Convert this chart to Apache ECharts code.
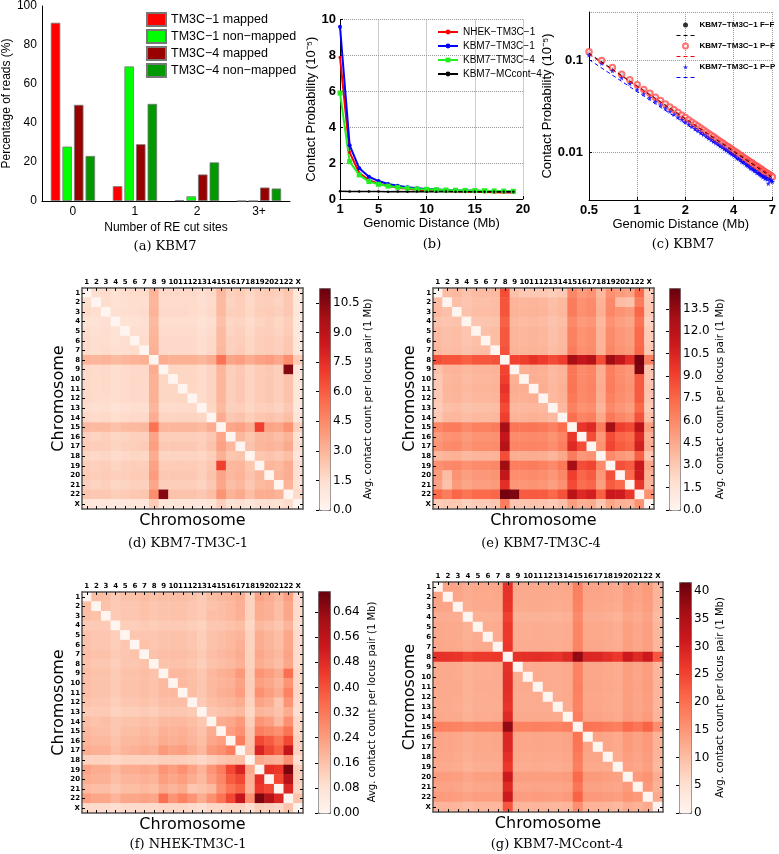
<!DOCTYPE html>
<html><head><meta charset="utf-8">
<script src="https://cdn.jsdelivr.net/npm/echarts@6/dist/echarts.min.js"></script>
<style>html,body{margin:0;padding:0;background:#fff}#c{width:779px;height:854px}</style>
</head><body><div id="c"></div>
<script>
// ---------- (a) RE cut sites ----------
const reCategories = ['0', '1', '2', '3+'];
const tm3c1Mapped = [91.4, 7.6, 0.4, 0];
const tm3c1NonMapped = [27.9, 69.0, 2.4, 0];
const tm3c4Mapped = [49.3, 29.1, 13.6, 6.9];
const tm3c4NonMapped = [23.1, 49.8, 19.8, 6.4];

// ---------- (b) contact probability vs distance ----------
const bDistance = [1,2,3,4,5,6,7,8,9,10,11,12,13,14,15,16,17,18,19];
const bNHEK = [7.9,2.6,1.45,1.05,0.85,0.72,0.63,0.57,0.52,0.49,0.46,0.44,0.42,0.41,0.40,0.39,0.37,0.36,0.36];
const bKBM7TM3C1 = [9.6,3.0,1.71,1.24,1.0,0.84,0.74,0.66,0.60,0.56,0.53,0.50,0.48,0.47,0.46,0.45,0.44,0.43,0.42];
const bKBM7TM3C4 = [5.9,2.08,1.34,0.97,0.82,0.72,0.65,0.60,0.56,0.54,0.52,0.50,0.49,0.48,0.47,0.46,0.45,0.44,0.43];
const bMCcont4 = [0.43,0.42,0.42,0.42,0.42,0.41,0.42,0.41,0.42,0.41,0.41,0.42,0.41,0.41,0.41,0.41,0.41,0.41,0.41];

// ---------- (c) log-log ----------
const cDistance = [
0.5,0.6,0.7,0.8,0.9,1.0,1.1,1.2,1.3,1.4,
1.5,1.6,1.7,1.8,1.9,2.0,2.1,2.2,2.3,2.4,
2.5,2.6,2.7,2.8,2.9,3.0,3.1,3.2,3.3,3.4,
3.5,3.6,3.7,3.8,3.9,4.0,4.1,4.2,4.3,4.4,
4.5,4.6,4.7,4.8,4.9,5.0,5.1,5.2,5.3,5.4,
5.5,5.6,5.7,5.8,5.9,6.0,6.1,6.2,6.3,6.4,
6.5,6.6,6.7,6.8,6.9,7.0];
const cFF = [
0.120,0.097,0.081,0.069,0.060,0.053,0.047,0.0428,0.0388,0.0356,
0.0328,0.0304,0.0282,0.0264,0.0247,0.0233,0.0220,0.0208,0.0197,0.0187,
0.0178,0.0170,0.0163,0.0156,0.0150,0.0144,0.0138,0.0133,0.0128,0.0124,
0.0120,0.0116,0.0112,0.0109,0.0106,0.0102,0.0099,0.0097,0.0094,0.0091,
0.0089,0.0086,0.0084,0.0082,0.0080,0.0078,0.0076,0.0075,0.0073,0.0072,
0.0070,0.0069,0.0067,0.0066,0.0065,0.0063,0.0062,0.0061,0.0060,0.0059,
0.0058,0.0057,0.0056,0.0055,0.0054,0.0053];
const cPF = [
0.123,0.099,0.083,0.070,0.061,0.054,0.048,0.0435,0.0395,0.0363,
0.0334,0.0310,0.0288,0.0269,0.0252,0.0238,0.0224,0.0212,0.0201,0.0191,
0.0182,0.0174,0.0166,0.0159,0.0153,0.0147,0.0141,0.0136,0.0131,0.0127,
0.0122,0.0118,0.0115,0.0111,0.0108,0.0104,0.0101,0.0099,0.0096,0.0093,
0.0091,0.0088,0.0086,0.0084,0.0082,0.0080,0.0078,0.0077,0.0075,0.0073,
0.0072,0.0070,0.0069,0.0067,0.0066,0.0065,0.0063,0.0062,0.0061,0.0060,
0.0059,0.0058,0.0057,0.0056,0.0055,0.0054];
const cPP = [
0.113,0.092,0.0765,0.064,0.0555,0.048,0.043,0.039,0.0355,0.0325,
0.0300,0.0278,0.0258,0.0241,0.0226,0.0213,0.0201,0.0190,0.0180,0.0171,
0.0163,0.0156,0.0149,0.0142,0.0137,0.0131,0.0126,0.0122,0.0117,0.0113,
0.0109,0.0106,0.0102,0.0099,0.0096,0.0093,0.0091,0.0086,0.0085,0.0083,
0.0079,0.0078,0.0076,0.0073,0.0072,0.0070,0.0067,0.0067,0.0065,0.0063,
0.0063,0.0060,0.0060,0.0058,0.0057,0.0056,0.0054,0.0055,0.0052,0.0053,
0.0051,0.0046,0.0052,0.0049,0.0050,0.0048];
const cFitX = [0.5, 7.0];
const cFitFF = [0.118, 0.0053];
const cFitPF = [0.115, 0.0055];
const cFitPP = [0.101, 0.0048];

// ---------- heatmaps (lower triangle, rows 1..22, X) ----------
const chroms = ['1','2','3','4','5','6','7','8','9','10','11','12','13','14','15','16','17','18','19','20','21','22','X'];

const hmKBM7TM3C1 = [
[0],
[1.5,0],
[1.6,1.5,0],
[1.3,1.3,1.4,0],
[1.5,1.4,1.5,1.3,0],
[1.6,1.5,1.5,1.3,1.5,0],
[1.6,1.5,1.6,1.4,1.5,1.6,0],
[3.1,3.0,3.1,2.8,3.0,3.1,3.2,0],
[1.7,1.6,1.7,1.5,1.6,1.7,1.7,3.3,0],
[1.7,1.6,1.7,1.5,1.6,1.7,1.7,3.2,1.8,0],
[1.7,1.6,1.7,1.5,1.6,1.7,1.7,3.2,1.8,1.8,0],
[1.7,1.6,1.6,1.5,1.6,1.7,1.7,3.2,1.8,1.8,1.8,0],
[1.5,1.4,1.5,1.3,1.4,1.5,1.5,3.0,1.6,1.6,1.6,1.6,0],
[1.7,1.6,1.7,1.5,1.6,1.7,1.7,3.3,1.9,1.9,1.9,1.9,1.8,0],
[2.9,2.8,2.8,2.6,2.8,2.8,2.9,5.3,3.0,3.0,3.0,3.0,2.8,3.3,0],
[2.0,1.9,2.0,1.8,1.9,2.0,2.0,3.6,2.1,2.1,2.1,2.1,2.0,2.3,3.5,0],
[2.2,2.1,2.1,1.9,2.0,2.1,2.2,3.8,2.3,2.3,2.3,2.3,2.1,2.5,3.7,2.9,0],
[1.8,1.7,1.8,1.6,1.7,1.8,1.8,3.3,1.9,1.9,1.9,1.9,1.8,2.1,3.2,2.4,2.5,0],
[2.1,2.0,2.1,1.9,2.0,2.1,2.1,3.7,2.2,2.2,2.2,2.2,2.0,2.4,6.9,2.9,3.0,2.4,0],
[2.2,2.1,2.2,2.0,2.1,2.2,2.2,3.9,2.3,2.3,2.3,2.3,2.1,2.5,3.6,2.9,3.1,2.5,3.0,0],
[2.0,1.9,2.0,1.8,1.9,2.0,2.0,3.5,2.1,2.1,2.1,2.1,1.9,2.3,3.5,2.7,2.9,2.3,2.8,3.0,0],
[2.4,2.3,2.3,2.1,2.2,2.3,2.4,4.4,10.6,2.5,2.5,2.5,2.3,2.7,4.2,3.1,3.4,2.7,3.3,3.3,3.1,0],
[1.0,0.9,1.0,0.8,0.9,1.0,1.0,2.2,1.0,1.0,1.0,1.0,0.9,1.1,2.0,1.3,1.4,1.1,1.4,1.4,1.3,1.6,0]];

const hmKBM7TM3C4 = [
[0],
[3.6,0],
[3.8,3.5,0],
[3.3,3.2,3.3,0],
[3.7,3.5,3.6,3.2,0],
[3.7,3.5,3.6,3.2,3.5,0],
[3.8,3.6,3.7,3.3,3.6,3.6,0],
[8.6,8.3,8.3,7.8,8.2,8.2,8.4,0],
[3.4,4.0,4.1,3.8,4.0,4.0,4.1,9.0,0],
[3.0,3.9,4.0,3.7,3.9,3.9,4.0,9.2,4.2,0],
[3.0,4.0,4.1,3.8,4.0,4.0,4.1,9.8,4.3,4.3,0],
[3.0,3.9,4.0,3.7,3.9,3.9,4.0,9.3,4.2,4.2,4.3,0],
[2.8,3.5,3.6,3.3,3.5,3.5,3.6,8.7,3.8,3.8,3.9,3.8,0],
[3.0,3.8,3.9,3.6,3.8,3.8,3.9,9.2,4.1,4.1,4.2,4.1,3.8,0],
[6.2,6.6,6.6,6.0,6.4,6.4,6.6,12.9,6.9,6.9,7.0,6.8,6.4,7.2,0],
[5.2,5.6,5.7,5.2,5.5,5.5,5.7,11.5,5.9,5.9,6.0,5.9,5.5,6.2,9.6,0],
[5.5,5.9,6.0,5.4,5.8,5.8,5.9,12.2,6.2,6.2,6.3,6.2,5.8,6.5,10.2,8.6,0],
[3.8,4.1,4.2,3.8,4.0,4.0,4.1,8.6,4.3,4.3,4.4,4.3,4.0,4.6,6.6,5.3,5.6,0],
[5.7,6.0,6.1,5.6,5.9,5.9,6.1,13.2,6.5,6.5,6.6,6.4,6.0,6.8,13.0,8.6,9.0,6.0,0],
[5.2,3.6,5.5,5.0,5.3,5.3,5.5,11.6,5.8,5.8,5.9,5.8,5.4,6.1,9.2,7.6,8.0,5.3,8.5,0],
[4.9,3.4,5.2,4.7,5.0,5.0,5.2,10.0,5.4,5.4,5.5,5.4,5.0,5.7,8.7,7.2,7.6,5.0,8.0,7.4,0],
[7.4,6.6,7.6,7.0,7.4,7.4,7.6,14.5,14.2,8.0,8.1,8.0,7.5,8.4,12.0,10.2,10.8,7.9,11.2,11.0,9.6,0],
[2.8,3.0,3.1,2.6,2.9,2.9,3.1,6.5,3.2,3.2,3.3,3.2,2.9,3.4,5.1,4.2,4.4,3.1,4.7,4.2,4.0,5.6,0]];

const hmNHEKTM3C1 = [
[0],
[0.17,0],
[0.17,0.16,0],
[0.14,0.14,0.14,0],
[0.16,0.15,0.15,0.13,0],
[0.16,0.15,0.15,0.13,0.15,0],
[0.17,0.16,0.16,0.14,0.15,0.16,0],
[0.16,0.15,0.15,0.13,0.15,0.15,0.16,0],
[0.17,0.16,0.16,0.14,0.16,0.16,0.17,0.16,0],
[0.17,0.16,0.16,0.14,0.16,0.16,0.17,0.16,0.18,0],
[0.17,0.16,0.16,0.14,0.16,0.16,0.17,0.16,0.18,0.18,0],
[0.16,0.15,0.15,0.13,0.15,0.15,0.16,0.15,0.17,0.17,0.17,0],
[0.14,0.14,0.14,0.12,0.13,0.13,0.14,0.13,0.15,0.15,0.15,0.14,0],
[0.17,0.16,0.17,0.15,0.16,0.16,0.17,0.16,0.18,0.18,0.18,0.17,0.15,0],
[0.18,0.17,0.17,0.15,0.17,0.17,0.18,0.17,0.20,0.19,0.20,0.18,0.16,0.21,0],
[0.19,0.18,0.18,0.16,0.18,0.18,0.19,0.18,0.21,0.20,0.21,0.19,0.17,0.22,0.24,0],
[0.21,0.20,0.20,0.17,0.19,0.20,0.21,0.20,0.25,0.23,0.24,0.21,0.18,0.25,0.27,0.31,0],
[0.12,0.12,0.12,0.11,0.12,0.12,0.12,0.12,0.13,0.13,0.13,0.12,0.11,0.13,0.15,0.16,0.17,0],
[0.23,0.21,0.21,0.18,0.21,0.21,0.22,0.21,0.26,0.24,0.27,0.23,0.19,0.26,0.31,0.42,0.50,0.22,0],
[0.21,0.20,0.20,0.17,0.19,0.19,0.20,0.19,0.24,0.22,0.24,0.21,0.18,0.24,0.29,0.38,0.42,0.20,0.47,0],
[0.18,0.17,0.17,0.15,0.17,0.17,0.18,0.17,0.21,0.19,0.21,0.15,0.16,0.18,0.27,0.33,0.37,0.19,0.45,0.42,0],
[0.24,0.22,0.22,0.19,0.22,0.22,0.23,0.22,0.34,0.26,0.30,0.26,0.21,0.27,0.33,0.42,0.55,0.27,0.68,0.58,0.49,0],
[0.10,0.10,0.10,0.09,0.10,0.10,0.10,0.10,0.11,0.11,0.11,0.10,0.09,0.11,0.11,0.12,0.12,0.09,0.13,0.12,0.11,0.16,0]];

const hmKBM7MCcont4 = [
[0],
[13.5,0],
[13.3,13.2,0],
[12.3,12.2,12.1,0],
[12.8,12.7,12.6,11.8,0],
[12.8,12.7,12.6,11.8,12.3,0],
[12.9,12.8,12.7,11.9,12.4,12.4,0],
[27.5,27.3,27.0,25.5,26.4,26.3,26.6,0],
[12.6,12.5,12.4,11.5,12.1,12.1,12.2,27.5,0],
[12.6,12.5,12.4,11.5,12.1,12.1,12.2,27.8,12.3,0],
[12.7,12.6,12.5,11.6,12.2,12.2,12.3,28.0,12.4,12.4,0],
[12.6,12.5,12.4,11.5,12.1,12.1,12.2,27.6,12.3,12.3,12.4,0],
[12.5,12.4,12.3,11.4,12.0,12.0,12.1,27.2,12.2,12.2,12.3,12.2,0],
[12.8,12.7,12.6,11.7,12.3,12.3,12.4,28.6,12.5,12.5,12.6,12.5,12.4,0],
[18.0,17.8,17.6,16.6,17.3,17.3,17.5,38.0,17.7,17.7,17.9,17.7,17.5,18.2,0],
[13.3,13.2,13.0,12.2,12.8,12.8,12.9,29.0,13.0,13.0,13.1,13.0,12.9,13.3,19.4,0],
[13.3,13.2,13.0,12.2,12.8,12.8,12.9,28.8,13.0,13.0,13.1,13.0,12.9,13.3,19.2,13.4,0],
[13.0,12.9,12.7,11.9,12.5,12.5,12.6,27.8,12.7,12.7,12.8,12.7,12.6,13.0,18.6,13.1,13.1,0],
[12.6,12.5,12.3,11.4,12.0,12.0,12.2,26.5,12.3,12.3,12.4,12.3,12.2,12.6,18.0,12.7,12.7,12.4,0],
[14.3,14.2,14.0,13.2,13.8,13.8,13.9,31.0,14.0,14.0,14.1,14.0,13.9,14.3,20.8,14.5,14.5,14.1,13.7,0],
[13.5,13.4,13.2,12.4,13.0,13.0,13.1,28.6,13.2,13.2,13.3,13.2,13.1,13.5,19.3,13.6,13.6,13.3,12.9,14.6,0],
[14.5,14.4,14.2,13.4,14.0,14.0,14.1,31.0,14.2,14.2,14.3,14.2,14.1,14.5,21.5,14.7,14.7,14.3,13.9,15.5,14.7,0],
[11.2,11.1,11.0,10.2,10.8,10.8,10.9,23.0,11.0,11.0,11.1,11.0,10.9,11.2,16.2,11.4,11.4,11.1,10.7,12.2,11.5,12.5,0]];

const cbarTicksD = {max: 11.25, interval: 1.5, dec: 1};
const cbarTicksE = {max: 14.9, interval: 1.5, dec: 1};
const cbarTicksF = {max: 0.707, interval: 0.08, dec: 2};
const cbarTicksG = {max: 41.6, interval: 5, dec: 0};

// ---------------------------------------------------------------
const FA = 'Liberation Sans, Arial, sans-serif';
const FH = 'DejaVu Sans, sans-serif';
const FS = 'DejaVu Serif, serif';
const reds = ['#fff5f0','#fee0d2','#fcbba1','#fc9272','#fb6a4a','#ef3b2c','#cb181d','#a50f15','#67000d'];

const grids = [], xAxes = [], yAxes = [], series = [], visualMaps = [], legends = [];
const pairs = (xs, ys) => xs.map((x, i) => [x, ys[i]]);

// ---- panel a ----
grids.push({left: 38, top: 3, width: 252, height: 198});
xAxes.push({gridIndex: 0, type: 'category', data: reCategories,
  axisLine: {lineStyle: {color: '#000', width: 1}}, axisTick: {show: false},
  axisLabel: {color: '#000', fontSize: 12, margin: 5, fontFamily: FA},
  name: 'Number of RE cut sites', nameLocation: 'middle', nameGap: 21,
  nameTextStyle: {color: '#000', fontSize: 12, fontFamily: FA}});
yAxes.push({gridIndex: 0, type: 'value', min: 0, max: 100, interval: 20,
  axisLine: {show: true, lineStyle: {color: '#000', width: 1}}, axisTick: {show: false}, splitLine: {show: false},
  axisLabel: {color: '#000', fontSize: 12, margin: 5, fontFamily: FA},
  name: 'Percentage of reads (%)', nameLocation: 'middle', nameGap: 24,
  nameTextStyle: {color: '#000', fontSize: 12, fontFamily: FA}});
const barDefs = [
  ['TM3C\u22121 mapped', tm3c1Mapped, '#ff0000'],
  ['TM3C\u22121 non\u2212mapped', tm3c1NonMapped, '#00ff00'],
  ['TM3C\u22124 mapped', tm3c4Mapped, '#990000'],
  ['TM3C\u22124 non\u2212mapped', tm3c4NonMapped, '#009900']];
barDefs.forEach(([n, d, c]) => series.push({type: 'bar', name: n, xAxisIndex: 0, yAxisIndex: 0, data: d,
  barWidth: 9.5, barGap: '22%', itemStyle: {color: c, borderColor: '#777', borderWidth: 0.8}}));
legends.push({left: 141, top: 7, orient: 'vertical', itemWidth: 19, itemHeight: 13, itemGap: 2, icon: 'rect',
  selectedMode: false, textStyle: {fontSize: 12.5, fontFamily: FA, color: '#000'}, data: barDefs.map(b => b[0])});

// ---- panel b ----
grids.push({left: 340, top: 19.5, width: 183, height: 179.5});
xAxes.push({gridIndex: 1, type: 'value', min: 1, max: 20,
  axisLine: {lineStyle: {color: '#000', width: 1}},
  axisTick: {show: true, inside: true, length: 3, customValues: [1, 5, 10, 15, 20], lineStyle: {color: '#000'}},
  axisLabel: {customValues: [1, 5, 10, 15, 20], color: '#000', fontSize: 13, fontWeight: 'bold', margin: 4, fontFamily: FA},
  splitLine: {show: true, lineStyle: {type: 'dotted', color: '#999', width: 1}},
  name: 'Genomic Distance (Mb)', nameLocation: 'middle', nameGap: 17,
  nameTextStyle: {color: '#000', fontSize: 13, fontFamily: FA}});
yAxes.push({gridIndex: 1, type: 'value', min: 0, max: 10, interval: 2,
  axisLine: {show: true, lineStyle: {color: '#000', width: 1}},
  axisTick: {show: true, inside: true, length: 3, lineStyle: {color: '#000'}},
  axisLabel: {color: '#000', fontSize: 13, fontWeight: 'bold', margin: 4, fontFamily: FA},
  splitLine: {show: true, lineStyle: {type: 'dotted', color: '#999', width: 1}},
  name: 'Contact Probability (10\u207B\u2075)', nameLocation: 'middle', nameGap: 19,
  nameTextStyle: {color: '#000', fontSize: 13, fontFamily: FA}});
const lineDefs = [
  ['NHEK\u2212TM3C\u22121', bNHEK, '#ff0000', 'circle', 3, 2],
  ['KBM7\u2212TM3C\u22121', bKBM7TM3C1, '#0000ff', 'circle', 4, 2],
  ['KBM7\u2212TM3C\u22124', bKBM7TM3C4, '#22ee22', 'rect', 5, 2],
  ['KBM7\u2212MCcont\u22124', bMCcont4, '#000000', 'circle', 2.5, 1.5]];
lineDefs.forEach(([n, d, c, s, ss, w]) => series.push({type: 'line', name: n, xAxisIndex: 1, yAxisIndex: 1,
  data: pairs(bDistance, d), symbol: s, symbolSize: ss, showAllSymbol: true,
  lineStyle: {color: c, width: w}, itemStyle: {color: c}}));
legends.push({left: 432, top: 22, orient: 'vertical', itemWidth: 20, itemHeight: 6, itemGap: 4,
  selectedMode: false, textStyle: {fontSize: 10, lineHeight: 10, fontFamily: FA, color: '#000'}, data: lineDefs.map(l => l[0])});

// ---- panel c ----
grids.push({left: 589, top: 12, width: 186, height: 188});
xAxes.push({gridIndex: 2, type: 'log', logBase: 2, min: 0.5, max: 7,
  axisLine: {lineStyle: {color: '#000', width: 1}},
  axisTick: {show: true, inside: true, length: 3, lineStyle: {color: '#000'}},
  axisLabel: {color: '#000', fontSize: 13, fontWeight: 'bold', margin: 4, fontFamily: FA,
    formatter: v => String(Math.round(v * 10) / 10)},
  splitLine: {show: true, lineStyle: {type: 'dotted', color: '#999', width: 1}},
  name: 'Genomic Distance (Mb)', nameLocation: 'middle', nameGap: 17,
  nameTextStyle: {color: '#000', fontSize: 13, fontFamily: FA}});
yAxes.push({gridIndex: 2, type: 'log', min: 0.00304, max: 0.331,
  axisLine: {show: true, lineStyle: {color: '#000', width: 1}},
  axisTick: {show: true, inside: true, length: 3, lineStyle: {color: '#000'}},
  axisLabel: {color: '#000', fontSize: 13, fontWeight: 'bold', margin: 6, fontFamily: FA,
    showMinLabel: false, showMaxLabel: false, formatter: v => String(+v.toPrecision(2))},
  splitLine: {show: true, lineStyle: {type: 'dotted', color: '#999', width: 1}},
  name: 'Contact Probability (10\u207B\u2075)', nameLocation: 'middle', nameGap: 31,
  nameTextStyle: {color: '#000', fontSize: 13, fontFamily: FA}});
const starPath = 'path://M50,0 L61,35 L98,35 L68,57 L79,91 L50,70 L21,91 L32,57 L2,35 L39,35 Z';
const cDefs = [
  ['KBM7\u2212TM3C\u22121 F\u2212F', cFF, '#000000', 'circle', 3.5, ' ', cFitFF],
  ['KBM7\u2212TM3C\u22121 P\u2212F', cPF, '#ff0000', 'emptyCircle', 5.5, '  ', cFitPF],
  ['KBM7\u2212TM3C\u22121 P\u2212P', cPP, '#0000ff', starPath, 5.5, '   ', cFitPP]];
const cLegend = [];
cDefs.forEach(([n, d, c, s, ss, fn, fit]) => {
  series.push({type: 'scatter', name: n, xAxisIndex: 2, yAxisIndex: 2, data: pairs(cDistance, d),
    symbol: s, symbolSize: ss, itemStyle: s === 'emptyCircle' ? {color: '#ff5050', borderColor: '#ff0000', borderWidth: 2} : {color: c}});
  series.push({type: 'line', name: fn, xAxisIndex: 2, yAxisIndex: 2, data: pairs(cFitX, fit),
    symbol: 'none', lineStyle: {color: c, width: 1, type: [4, 3]}, itemStyle: {color: c}, z: 3});
  cLegend.push({name: n}, {name: fn, lineStyle: {width: 1}, itemStyle: {color: 'rgba(0,0,0,0)', borderWidth: 0, borderColor: 'rgba(0,0,0,0)'}});
});
legends.push({left: 671, top: 16, orient: 'vertical', itemWidth: 18, itemHeight: 5, itemGap: 2.5,
  selectedMode: false, textStyle: {fontSize: 8, lineHeight: 8, fontWeight: 'bold', fontFamily: FA, color: '#000'}, data: cLegend});

// ---- heatmaps ----
function fullMatrix(L) {
  const out = [];
  for (let r = 0; r < chroms.length; r++) {
    for (let c = 0; c < chroms.length; c++) {
      const v = r >= c ? L[r][c] : L[c][r];
      out.push([c, r, v == null ? 0 : v]);
    }
  }
  return out;
}
const heatDefs = [
  {L: hmKBM7TM3C1, g: {left: 82, top: 288, width: 221, height: 221}, cb: {left: 319, top: 288, width: 11, height: 222}, t: cbarTicksD, gap: 33},
  {L: hmKBM7TM3C4, g: {left: 433, top: 288, width: 221, height: 221}, cb: {left: 669, top: 288, width: 11, height: 222}, t: cbarTicksE, gap: 35},
  {L: hmNHEKTM3C1, g: {left: 82, top: 592, width: 221, height: 221}, cb: {left: 318, top: 591, width: 12, height: 222}, t: cbarTicksF, gap: 37},
  {L: hmKBM7MCcont4, g: {left: 433, top: 582, width: 230, height: 230}, cb: {left: 679, top: 582, width: 12, height: 231}, t: cbarTicksG, gap: 24}];
const frame = {show: true, lineStyle: {color: '#555', width: 1.5}};
const tick = {show: true, inside: true, length: 3, alignWithLabel: true, interval: 0, lineStyle: {color: '#000', width: 1}};
const tlab = {interval: 0, fontSize: 7, fontWeight: 'bold', fontFamily: FH, color: '#000', margin: 2};
const chromName = {color: '#000', fontSize: 16, fontFamily: FH};
heatDefs.forEach((h) => {
  const gi = grids.length;
  grids.push(h.g);
  const xTop = xAxes.length;
  xAxes.push({gridIndex: gi, type: 'category', data: chroms, position: 'top', axisLine: frame, axisTick: tick, axisLabel: tlab, splitLine: {show: false}, z: 10});
  xAxes.push({gridIndex: gi, type: 'category', data: chroms, position: 'bottom', axisLine: frame, axisTick: tick, axisLabel: {show: false}, splitLine: {show: false}, z: 10,
    name: 'Chromosome', nameLocation: 'middle', nameGap: 4, nameTextStyle: chromName});
  const yLeft = yAxes.length;
  yAxes.push({gridIndex: gi, type: 'category', data: chroms, inverse: true, position: 'left', axisLine: frame, axisTick: tick, axisLabel: tlab, splitLine: {show: false}, z: 10,
    name: 'Chromosome', nameLocation: 'middle', nameGap: 14, nameTextStyle: chromName});
  yAxes.push({gridIndex: gi, type: 'category', data: chroms, inverse: true, position: 'right', axisLine: frame, axisTick: tick, axisLabel: {show: false}, splitLine: {show: false}, z: 10});
  const si = series.length;
  series.push({type: 'heatmap', xAxisIndex: xTop, yAxisIndex: yLeft, data: fullMatrix(h.L),
    itemStyle: {borderWidth: 0}, emphasis: {disabled: true}, progressive: 0});
  visualMaps.push({type: 'continuous', seriesIndex: si, min: 0, max: h.t.max, orient: 'vertical',
    left: h.cb.left, top: h.cb.top, itemWidth: h.cb.width, itemHeight: h.cb.height, padding: 0,
    calculable: false, hoverLink: false, show: true, inRange: {color: reds},
    borderColor: '#666', borderWidth: 1});
  // colorbar scale
  const cg = grids.length;
  grids.push(h.cb);
  xAxes.push({gridIndex: cg, type: 'value', show: false, min: 0, max: 1});
  yAxes.push({gridIndex: cg, type: 'value', min: 0, max: h.t.max, interval: h.t.interval, position: 'right',
    axisLine: {show: false}, axisTick: {show: true, inside: true, length: 3, lineStyle: {color: '#000'}},
    splitLine: {show: false},
    axisLabel: {color: '#000', fontSize: 12, fontFamily: FH, margin: 3, showMaxLabel: false, formatter: v => v.toFixed(h.t.dec)},
    name: 'Avg. contact count per locus pair (1 Mb)', nameLocation: 'middle', nameRotate: 90, nameGap: h.gap,
    nameTextStyle: {color: '#000', fontSize: 10, fontFamily: FH}, z: 10});
});

// ---- captions ----
const caps = [
  ['(a) KBM7', 165, 247], ['(b)', 432, 245], ['(c) KBM7', 683, 245],
  ['(d) KBM7-TM3C-1', 188, 544], ['(e) KBM7-TM3C-4', 541, 544],
  ['(f) NHEK-TM3C-1', 188, 845], ['(g) KBM7-MCcont-4', 557, 845]];
const graphics = caps.map(([t, x, y]) => ({type: 'text', x: x, y: y, silent: true,
  style: {text: t, font: '13px ' + FS, fill: '#000', textAlign: 'center', align: 'center', textVerticalAlign: 'middle', verticalAlign: 'middle'}}));

const chart = echarts.init(document.getElementById('c'), null, {width: 779, height: 854});
chart.setOption({
  animation: false,
  backgroundColor: '#fff',
  textStyle: {fontFamily: FA},
  grid: grids, xAxis: xAxes, yAxis: yAxes, series: series,
  visualMap: visualMaps, legend: legends, graphic: graphics
});
</script></body></html>
